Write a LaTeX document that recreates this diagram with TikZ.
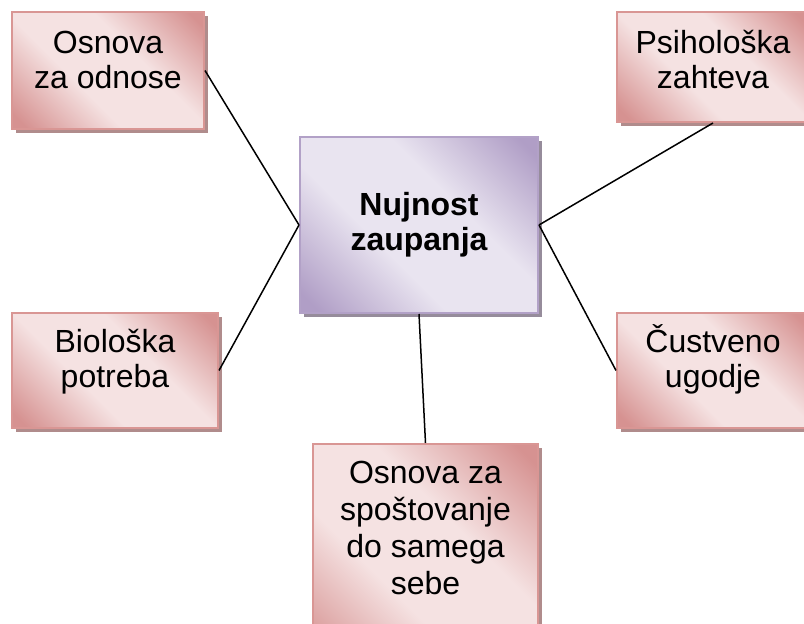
\documentclass[tikz,border=0pt]{standalone}
\usepackage{fontspec}
\setmainfont{Liberation Sans}
\usetikzlibrary{shadows}

\definecolor{pinkdark}{RGB}{214,146,145}
\definecolor{pinklight}{RGB}{245,226,226}
\definecolor{pinkline}{RGB}{217,150,148}
\definecolor{pinkshadow}{RGB}{176,140,140}
\definecolor{lilacdark}{RGB}{176,158,198}
\definecolor{lilaclight}{RGB}{233,228,240}
\definecolor{lilacline}{RGB}{178,161,199}
\definecolor{lilacshadow}{RGB}{150,140,155}

\pgfdeclarehorizontalshading{pinkband}{100bp}{color(0bp)=(pinkdark); color(18bp)=(pinkdark); color(40bp)=(pinklight); color(60bp)=(pinklight); color(82bp)=(pinkdark); color(100bp)=(pinkdark)}
\pgfdeclarehorizontalshading{lilacband}{100bp}{color(0bp)=(lilacdark); color(18bp)=(lilacdark); color(40bp)=(lilaclight); color(60bp)=(lilaclight); color(82bp)=(lilacdark); color(100bp)=(lilacdark)}

\begin{document}
\begin{tikzpicture}[x=0.5pt, y=-0.5pt,
		pinkbox/.style={draw=pinkline, line width=1pt, shading=pinkband, shading angle=45,
			drop shadow={shadow xshift=2pt, shadow yshift=-2pt, fill=pinkshadow, opacity=1},
			anchor=north, align=center, inner sep=0pt, minimum width=96pt,
			text height=38.5pt, text depth=20pt, font=\fontsize{16}{17.5}\selectfont},
		hubbox/.style={draw=lilacline, line width=1pt, shading=lilacband, shading angle=45,
			drop shadow={shadow xshift=2pt, shadow yshift=-2pt, fill=lilacshadow, opacity=1},
			align=center, minimum width=119pt, minimum height=88pt,
			font=\fontsize{16}{17.5}\selectfont\bfseries},
		link/.style={line width=0.75pt}]
				%page frame, the right and bottom boxes run off it
				\useasboundingbox (0,0) rectangle (804,624);
				\clip (0,0) rectangle (804,624);
				%centre box
				\node[hubbox] (hub) at (419,225) {Nujnost\\zaupanja};
				%%outer boxes placed by hand, by their top edge
				\node[pinkbox] (odnose) at (108,11) {Osnova\\za odnose};
				\node[pinkbox, text depth=16.5pt] (psiho) at (713,11) {Psihološka\\zahteva};
				\node[pinkbox, minimum width=103pt, text height=37.5pt] (bio) at (115,312) {Biološka\\potreba};
				\node[pinkbox, text height=37.5pt] (custva) at (713,312) {Čustveno\\ugodje};
				\node[pinkbox, minimum width=112.5pt, text height=75.5pt, text depth=40pt,
					font=\fontsize{16}{18.5}\selectfont] (sebe) at (425.5,443) {Osnova za\\spoštovanje\\do samega\\sebe};

				\draw[link] (odnose.east)--(hub.west);
				\draw[link] (bio.east)--(hub.west);
				\draw[link] (psiho.south)--(hub.east);
				\draw[link] (custva.west)--(hub.east);
				\draw[link] (hub.south)--(sebe.north);
\end{tikzpicture}
\end{document}
